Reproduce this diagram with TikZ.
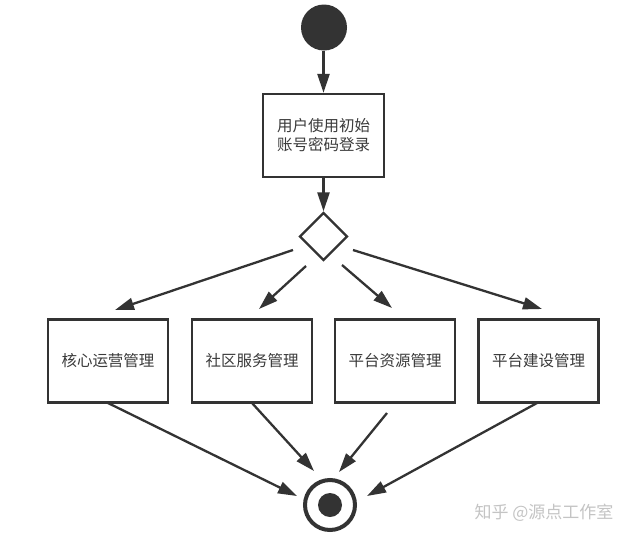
\documentclass[tikz,border=0pt]{standalone}
\usepackage{fontspec}
\setmainfont{Noto Sans CJK SC}
\usetikzlibrary{arrows.meta,shapes.geometric}
\definecolor{ink}{HTML}{333333}
\definecolor{txt}{HTML}{3A3A3A}
\definecolor{wm}{HTML}{C4C4C4}
\tikzset{
  actbox/.style={draw=ink, line width=2.3pt, minimum width=120pt, minimum height=83pt, inner sep=0pt, align=center, text=txt, font=\fontsize{15.5pt}{19pt}\selectfont},
  arr/.style={draw=ink, line width=2.3pt, -{Triangle[length=19pt,width=12pt]}},
}
\begin{document}
\begin{tikzpicture}[x=1pt,y=-1pt]
\useasboundingbox (0,0) rectangle (641,539);
\fill[white] (0,0) rectangle (641,539);
\node[circle, fill=ink, minimum size=46pt, inner sep=0pt] (start) at (324,27.5) {};
\node[actbox, minimum width=121pt] (login) at (323.5,135.5) {用户使用初始\\账号密码登录};
\node[diamond, draw=ink, line width=2.3pt, minimum width=48pt, minimum height=48pt, inner sep=0pt, aspect=1] (dia) at (323.5,236.5) {};
\node[actbox] (A) at (108,361) {核心运营管理};
\node[actbox] (B) at (252,361) {社区服务管理};
\node[actbox] (C) at (395,361) {平台资源管理};
\node[actbox] (D) at (538.5,361) {平台建设管理};
\node[circle, draw=ink, line width=4pt, minimum size=50pt, inner sep=0pt] (end) at (330,505) {};
\node[circle, fill=ink, minimum size=24pt, inner sep=0pt] (enddot) at (end.center) {};
\draw[arr] (start.south -| login.north) -- (login.north);
\draw[arr] (login.south) -- (dia.north);
\draw[arr] ([shift={(-30.5,13.5)}]dia.center) -- ([shift={(7,-51)}]A.center);
\draw[arr] ([shift={(-17.5,29.5)}]dia.center) -- ([shift={(7,-52)}]B.center);
\draw[arr] ([shift={(18.5,28.5)}]dia.center) -- ([shift={(-3,-53)}]C.center);
\draw[arr] ([shift={(29.5,13.5)}]dia.center) -- ([shift={(3.5,-52)}]D.center);
\draw[arr] ([shift={(0,42)}]A.center) -- ([shift={(-33,-9)}]end.center);
\draw[arr] ([shift={(0,42)}]B.center) -- ([shift={(-16,-34)}]end.center);
\draw[arr] ([shift={(-8,52)}]C.center) -- ([shift={(9,-33)}]end.center);
\draw[arr] ([shift={(-1.5,42)}]D.center) -- ([shift={(37,-9)}]end.center);
\node[text=wm, font=\fontsize{17pt}{20pt}\selectfont, anchor=center] (wmark) at (544,513) {知乎 @源点工作室};
\end{tikzpicture}
\end{document}
